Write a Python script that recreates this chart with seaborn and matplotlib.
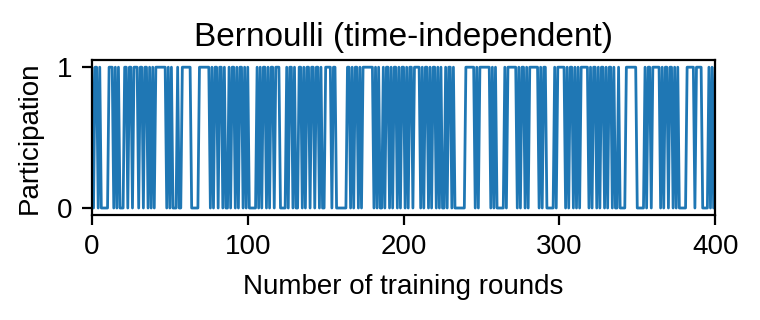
import matplotlib
matplotlib.use("Agg")
import matplotlib.pyplot as plt
import seaborn as sns
import pandas as pd

# Participation (0/1) per training round in 40-round segments
seg_a = "101101" "00000" "111" "0101" "000" "11011" "011" "1011" "011" "0101"
seg_b = "01" "111111" "01010" "00100" "11" "1111" "00000" "1111111" "0101"
seg_c = "101101001011010110101" "00000" "10101101011011"
seg_d = "1" "0000" "10110" "10011" "01011" "01101" "10100" "11" "1101" "1000"
seg_e = "0000" "110101101011" "11111" "0101" "00" "1011010110101"
seg_f = "1010110" "1111" "01011010110101" "00" "1011010" "000000"
seg_g = "111111" "01011" "11111" "01010" "0000" "1011" "1111" "0101101"
seg_h = "01" "11111" "01011" "00000" "101" "1111" "010110" "10101" "1111" "0"
seg_i = "1011010110101101001" "0000" "1" "111111" "0" "0000" "10110"
seg_j = "1" "1111" "010110" "110101" "00000" "1" "111101111" "0000" "10101"

segments = [seg_a, seg_b, seg_c, seg_d, seg_e, seg_f, seg_g, seg_h, seg_i, seg_j]
participation = [int(c) for s in segments for c in s]
rounds = list(range(len(participation)))

title = "Bernoulli (time-independent)"
xlabel = "Number of training rounds"
ylabel = "Participation"
xticks = [0, 100, 200, 300, 400]
yticks = [0, 1]

sns.set_style("ticks")
plt.rcParams["font.family"] = ["Liberation Sans", "DejaVu Sans"]
plt.rcParams["text.color"] = "black"
plt.rcParams["axes.labelcolor"] = "black"
plt.rcParams["xtick.color"] = "black"
plt.rcParams["ytick.color"] = "black"

df = pd.DataFrame({"round": rounds, "participation": participation})

fig = plt.figure(figsize=(3.8, 1.6), dpi=200)
ax = fig.add_axes([0.121, 0.328, 0.820, 0.484])
sns.lineplot(data=df, x="round", y="participation", ax=ax,
             color="#1f77b4", linewidth=1.0)
ax.set_xlim(0, 400)
ax.set_ylim(-0.05, 1.05)
ax.set_xticks(xticks)
ax.set_yticks(yticks)
ax.tick_params(labelsize=10, width=0.8, length=3.5, pad=3.5)
ax.set_title(title, fontsize=12, pad=5)
ax.set_xlabel(xlabel, fontsize=10, labelpad=5)
ax.set_ylabel(ylabel, fontsize=10, labelpad=5)
for sp in ax.spines.values():
    sp.set_linewidth(0.8)
    sp.set_color("black")
fig.savefig("out.png", dpi=200)
